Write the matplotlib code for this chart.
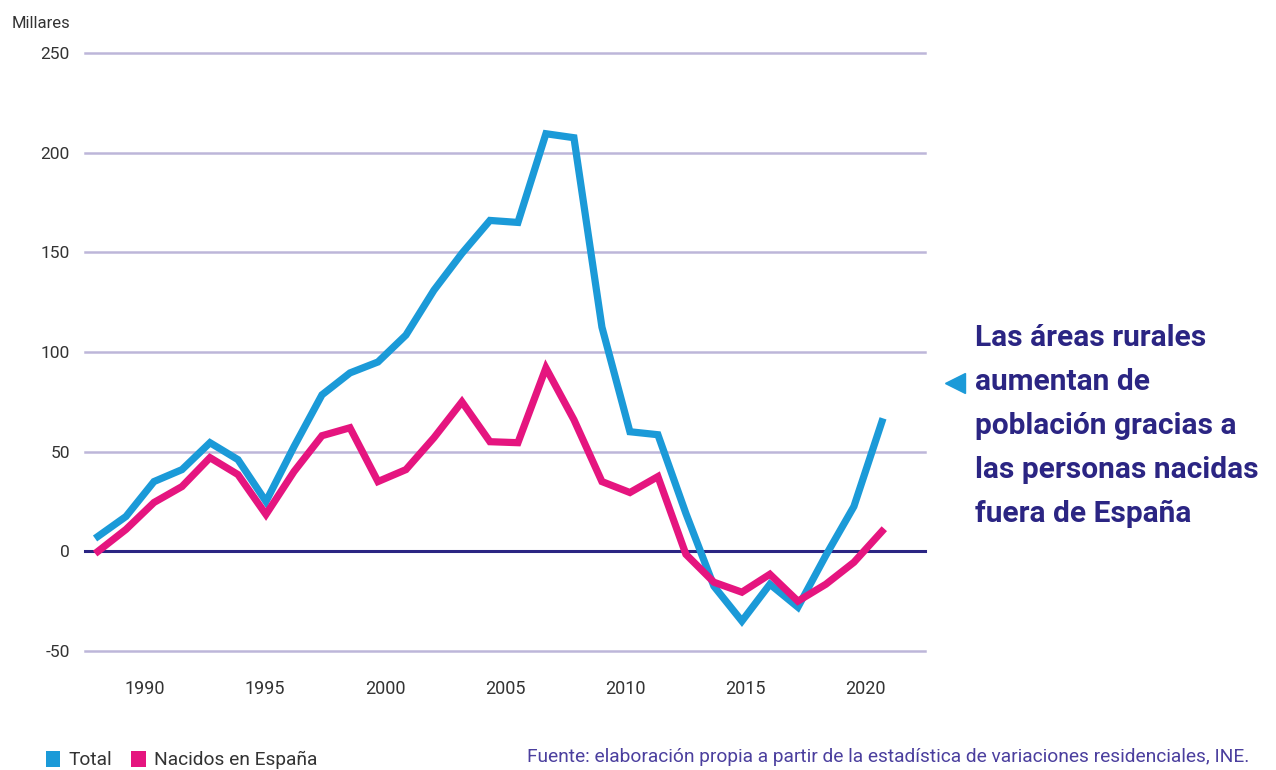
import matplotlib
matplotlib.use("Agg")
import matplotlib.pyplot as plt
import numpy as np
from matplotlib.patches import Patch
from matplotlib.lines import Line2D
from matplotlib import font_manager

# ---------------- data (thousands) ----------------
total = [7.5, 17.5, 35, 41, 54.5, 46, 25, 52.5, 78.5, 89.5, 95, 108.5, 131, 149.5,
         166, 165, 209.5, 207.5, 112.5, 60, 58.5, 19, -17.5, -35, -16.5, -28, -2, 22.5, 65]
nacidos = [0, 11, 24.5, 32.5, 47, 38.5, 18.5, 40, 58, 62, 35, 41, 57, 75,
           55, 54.5, 92, 66, 35, 29.5, 37.5, -1.5, -15.5, -20.5, -11.5, -25, -16.5, -5.5, 10]
x_tick_labels = ["1990", "1995", "2000", "2005", "2010", "2015", "2020"]
y_ticks = [-50, 0, 50, 100, 150, 200, 250]

BLUE = "#1b9ad8"
PINK = "#e5157f"
NAVY = "#2b2583"
GRID = "#bdb6d9"
TEXT = "#333333"
SRC = "#4b3f9e"

W, H = 1276, 770
available = {f.name for f in font_manager.fontManager.ttflist}
narrow = "Liberation Sans Narrow" if "Liberation Sans Narrow" in available else "Roboto"
plt.rcParams["font.family"] = ["Roboto", "DejaVu Sans"]

fig = plt.figure(figsize=(W / 100, H / 100), dpi=100)
ax = fig.add_axes([85 / W, 1 - 651 / H, (925 - 85) / W, (651 - 53) / H])

idx = np.arange(len(total))
ax.set_xlim(-0.464, 29.54)
ax.set_ylim(-50, 250)

for yv in y_ticks:
    if yv == 0:
        ax.axhline(yv, color=NAVY, lw=2.2, zorder=1, clip_on=False)
    else:
        ax.axhline(yv, color=GRID, lw=1.8, zorder=1, clip_on=False)

ax.plot(idx, total, color=BLUE, lw=5.2, solid_joinstyle="miter", zorder=3, clip_on=False)
ax.plot(idx, nacidos, color=PINK, lw=5.2, solid_joinstyle="miter", zorder=4, clip_on=False)

for s in ax.spines.values():
    s.set_visible(False)
ax.set_yticks(y_ticks)
ax.set_yticklabels([str(v) for v in y_ticks])
# tick labels placed as in the original (not aligned to data points)
tick_pos = [1.679 + k * 120 / 28 for k in range(len(x_tick_labels))]
ax.set_xticks(tick_pos)
ax.set_xticklabels(x_tick_labels)
ax.tick_params(axis="y", length=0, pad=11, labelsize=12.5, labelcolor=TEXT)
ax.tick_params(axis="x", length=0, pad=21, labelsize=13, labelcolor=TEXT)

fig.text(70 / W, 1 - 24 / H, "Millares", ha="right", va="center", fontsize=12, color=TEXT)

# annotation
lines = ["Las áreas rurales", "aumentan de", "población gracias a",
         "las personas nacidas", "fuera de España"]
fig.text(975 / W, 1 - 426 / H, "\n".join(lines), ha="left", va="center",
         fontsize=21.5, fontweight="bold", color=NAVY, family=[narrow, "DejaVu Sans"],
         linespacing=1.72)
fig.add_artist(Line2D([955 / W], [1 - 383 / H], marker="<", markersize=14,
                      markerfacecolor=BLUE, markeredgecolor=BLUE,
                      transform=fig.transFigure, linestyle="none"))

# legend
handles = [Patch(facecolor=BLUE, edgecolor="none", label="Total"),
           Patch(facecolor=PINK, edgecolor="none", label="Nacidos en España")]
fig.legend(handles=handles, loc="center left", bbox_to_anchor=(36 / W, 1 - 760 / H),
           ncol=2, frameon=False, fontsize=13.8, handlelength=0.75, handleheight=0.9,
           handletextpad=0.45, columnspacing=1.0, borderpad=0, labelcolor=TEXT)

fig.text(527 / W, 1 - 757 / H,
         "Fuente: elaboración propia a partir de la estadística de variaciones residenciales, INE.",
         ha="left", va="center", fontsize=13.8, color=SRC, family=[narrow, "DejaVu Sans"])

fig.savefig("out.png", dpi=100, facecolor="white")
